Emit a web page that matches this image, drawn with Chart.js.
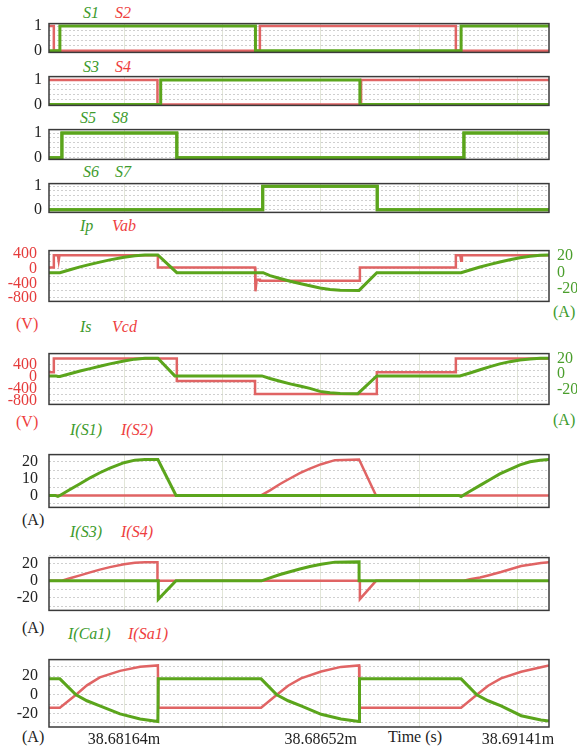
<!DOCTYPE html>
<html>
<head>
<meta charset="utf-8">
<script src="https://cdn.jsdelivr.net/npm/chart.js@4.4.1/dist/chart.umd.min.js"></script>
<style>
  body { margin: 0; background: #fff; width: 577px; height: 752px; position: relative; overflow: hidden;
         font-family: "Liberation Serif", "DejaVu Serif", serif; }
  canvas { position: absolute; left: 0; }
  .t { position: absolute; font-size: 16px; line-height: 18px; white-space: nowrap; }
  .i { font-style: italic; }
  .g { color: #3d9b2d; }
  .r { color: #ee3e3e; }
  .k { color: #222; }
</style>
</head>
<body>
<div class="t i g" style="left:83px;top:4px">S1</div>
<div class="t i r" style="left:115px;top:4px">S2</div>
<div class="t i g" style="left:83px;top:58px">S3</div>
<div class="t i r" style="left:115px;top:58px">S4</div>
<div class="t i g" style="left:80px;top:109px">S5</div>
<div class="t i g" style="left:112px;top:109px">S8</div>
<div class="t i g" style="left:83px;top:163px">S6</div>
<div class="t i g" style="left:115px;top:163px">S7</div>
<div class="t i g" style="left:80px;top:217px">Ip</div>
<div class="t i r" style="left:112px;top:217px">Vab</div>
<div class="t i g" style="left:80px;top:318px">Is</div>
<div class="t i r" style="left:112px;top:318px">Vcd</div>
<div class="t i g" style="left:70px;top:421px">I(S1)</div>
<div class="t i r" style="left:121px;top:421px">I(S2)</div>
<div class="t i g" style="left:70px;top:523px">I(S3)</div>
<div class="t i r" style="left:121px;top:523px">I(S4)</div>
<div class="t i g" style="left:68px;top:625px">I(Ca1)</div>
<div class="t i r" style="left:128px;top:625px">I(Sa1)</div>
<div class="t r" style="left:16px;top:315px">(V)</div>
<div class="t r" style="left:16px;top:413px">(V)</div>
<div class="t g" style="left:553px;top:303px">(A)</div>
<div class="t g" style="left:553px;top:411px">(A)</div>
<div class="t k" style="left:22px;top:511px">(A)</div>
<div class="t k" style="left:22px;top:619px">(A)</div>
<div class="t k" style="left:22px;top:728px">(A)</div>
<div class="t k" style="left:388px;top:728px">Time (s)</div>

<script>
// time axis: x values are microseconds after 38.68 ms
var tMin = -0.22;
var tMax = 12.18;
var timeTicks = [1.64, 4.08, 6.52, 8.97, 11.41];
var timeLabels = ["38.68164m", "", "38.68652m", "", "38.69141m"];

// gate signals [t, level]
var S1 = [[-0.22,0],[0.05,0],[0.05,1],[4.90,1],[4.90,0],[10.00,0],[10.00,1],[12.18,1]];
var S2 = [[-0.22,1],[-0.10,1],[-0.10,0],[5.01,0],[5.01,1],[9.87,1],[9.87,0],[12.18,0]];
var S3 = [[-0.22,0],[2.55,0],[2.55,1],[7.49,1],[7.49,0],[12.18,0]];
var S4 = [[-0.22,1],[2.47,1],[2.47,0],[7.52,0],[7.52,1],[12.18,1]];
var S5 = [[-0.22,0],[0.10,0],[0.10,1],[2.95,1],[2.95,0],[10.07,0],[10.07,1],[12.18,1]];
var S8 = S5; // same gate signal
var S6 = [[-0.22,0],[5.08,0],[5.08,1],[7.92,1],[7.92,0],[12.18,0]];
var S7 = S6;

// primary side: Ip (A), Vab (V)
var Ip = [[-0.22,0],[0.05,0],[0.30,3.5],[0.55,7],[0.80,10],[1.04,12.8],[1.29,15.5],[1.64,18.6],[1.91,20.5],[2.16,21.3],[2.48,21.4],[2.95,0],
  [5.09,0],[5.26,-3.5],[5.51,-7],[5.76,-10.3],[6.00,-13],[6.25,-15.8],[6.50,-18.5],[6.75,-20.3],[7.00,-21.3],[7.47,-21.4],[7.91,0],
  [10.00,0],[10.22,3.2],[10.47,6.8],[10.72,10],[10.96,13],[11.21,15.7],[11.46,18],[11.71,19.8],[11.96,21],[12.18,21.4]];
var Vab = [[-0.22,30],[-0.10,30],[-0.10,365],[0.00,365],[0.02,220],[0.04,365],[2.48,365],[2.48,30],[4.89,30],[4.89,-300],[4.91,-620],
  [4.93,-300],[5.01,-300],[5.01,-330],[7.49,-330],[7.49,30],[9.87,30],[9.87,365],[9.98,365],[10.00,220],[10.02,365],[12.18,365]];

// secondary side: Is (A), Vcd (V)
var Is = [[-0.22,-2.2],[-0.05,-2.2],[0.00,-3],[0.05,-3],[0.30,0.5],[0.55,4],[0.80,7],[1.04,10],[1.29,13],[1.64,16.6],[1.91,19],[2.16,20],[2.48,20.2],[2.90,-2.2],
  [5.06,-2.2],[5.26,-5.5],[5.51,-9],[5.76,-12.3],[6.00,-15],[6.25,-18],[6.50,-21.8],[6.75,-23.5],[7.00,-24.4],[7.44,-24.7],[7.91,-2.2],
  [9.97,-2.2],[10.22,1.5],[10.47,5.5],[10.72,9.5],[10.96,13],[11.21,15.8],[11.46,18],[11.71,19.3],[11.96,20],[12.18,20.2]];
var Vcd = [[-0.22,150],[-0.10,150],[-0.10,600],[2.95,600],[2.95,-140],[4.89,-140],[4.89,-570],[7.91,-570],[7.91,150],[9.87,150],[9.87,600],[12.18,600]];

// switch currents (A)
var IS1 = [[-0.22,0],[-0.07,0],[0.00,-0.6],[0.05,0],[0.30,3.5],[0.55,7],[0.80,10.5],[1.04,13.5],[1.29,16.3],[1.64,19.5],[1.91,21],[2.16,21.4],[2.48,21.4],[2.93,0],
  [9.94,0],[10.00,-0.6],[10.22,2.5],[10.47,6],[10.72,9.5],[10.96,12.8],[11.21,15.5],[11.46,18.2],[11.71,20],[11.96,21],[12.18,21.4]];
var IS2 = [[-0.22,0],[5.04,0],[5.26,3],[5.51,6.8],[5.71,9.5],[6.00,13.3],[6.25,16],[6.53,18.6],[6.87,21],[7.47,21.4],[7.89,0],[12.18,0]];
var IS3 = [[-0.22,0],[2.49,0],[2.49,-22],[2.93,0],[5.05,0],[5.26,3.5],[5.51,7.5],[5.71,10.2],[6.00,14],[6.25,17],[6.53,19.7],[6.87,22.2],[7.47,22.5],[7.47,0],[12.18,0]];
var IS4 = [[-0.22,0],[0.10,0],[0.30,3],[0.55,6.5],[0.80,10],[1.04,13.3],[1.29,16.3],[1.64,19.7],[1.91,21.5],[2.16,22],[2.47,22],[2.47,0],
  [7.49,0],[7.49,-21.8],[7.89,0],[10.07,0],[10.22,1.8],[10.47,4],[10.67,6.4],[10.99,10.5],[11.24,14],[11.49,17.5],[11.74,19.5],[11.98,21.2],[12.18,22]];

// resonant branch currents (A)
var ICa1 = [[-0.22,17],[0.05,17],[0.45,0],[0.72,-6.5],[1.04,-12],[1.54,-20.5],[2.04,-26],[2.48,-28.8],[2.49,17],
  [5.04,17],[5.43,0],[5.71,-6.5],[6.03,-12],[6.53,-21],[7.02,-26],[7.47,-28.8],[7.48,17],
  [10.00,17],[10.39,0],[10.67,-6.5],[10.99,-12],[11.49,-22.5],[11.98,-27],[12.18,-28.3]];
var ISa1 = [[-0.22,-14],[0.05,-14],[0.45,0],[0.72,10],[1.04,18.5],[1.54,25.5],[2.04,30],[2.48,31.4],[2.49,-14],
  [5.04,-14],[5.43,0],[5.71,9.6],[6.03,17.5],[6.53,24.8],[7.02,29.8],[7.47,31.4],[7.48,-14],
  [10.00,-14],[10.39,0],[10.67,9.6],[10.99,17.5],[11.49,24.5],[11.98,29.5],[12.18,31.4]];

// y tick / grid values
var gateGrid = [0, 0.2, 0.4, 0.6, 0.8, 1];
var gateLabels = [0, 1];
var voltGrid = [-800, -600, -400, -200, 0, 200, 400];
var voltLabels = [400, 0, -400, -800];
var ampLabels = [20, 0, -20];
var sw12Grid = [-5, 0, 5, 10, 15, 20];
var sw12Labels = [0, 10, 20];
var ampGrid = [-30, -20, -10, 0, 10, 20, 30];

var GREEN = "#5ba51c";
var RED = "#e06464";
var serif = { family: "'Liberation Serif', 'DejaVu Serif', serif", size: 16 };

var frame = {
  id: "frame",
  afterDraw: function (chart) {
    var a = chart.chartArea;
    var ctx = chart.ctx;
    ctx.save();
    ctx.strokeStyle = "#3a3a3a";
    ctx.lineWidth = 1.5;
    ctx.strokeRect(a.left, a.top, a.right - a.left, a.bottom - a.top);
    ctx.restore();
  },
};

function line(pts, color, axis) {
  return {
    data: pts.map(function (p) { return { x: p[0], y: p[1] }; }),
    borderColor: color,
    borderWidth: color == GREEN ? 3 : 2.5,
    yAxisID: axis || "y",
    pointRadius: 0,
    tension: 0,
    fill: false,
  };
}

function panel(p) {
  var padT = 14;
  var padB = p.last ? 0 : 14;
  var xH = p.last ? 26 : 0;
  var c = document.createElement("canvas");
  c.width = 577;
  c.height = p.bottom - p.top + padT + padB + xH;
  c.style.top = p.top - padT + "px";
  document.body.appendChild(c);

  var scales = {
    x: {
      type: "linear", min: tMin, max: tMax,
      afterBuildTicks: function (s) { s.ticks = timeTicks.map(function (v) { return { value: v }; }); },
      afterFit: function (s) { s.height = xH; },
      grid: { color: "#e2e6d8", lineWidth: 1, drawTicks: false },
      border: { display: false },
      ticks: {
        display: !!p.last, autoSkip: false, maxRotation: 0, padding: 3, color: "#222", font: serif,
        callback: function (v, i) { return timeLabels[i]; },
      },
    },
    y: {
      min: p.min, max: p.max,
      afterBuildTicks: function (s) { s.ticks = p.grid.map(function (v) { return { value: v }; }); },
      afterFit: function (s) { s.width = 49; },
      grid: { color: "#cfcfcf", lineWidth: 1, drawTicks: false },
      border: { display: false, dash: [2, 2] },
      ticks: {
        autoSkip: false, padding: p.pad, color: p.color || "#222", font: serif,
        callback: function (v) { return p.labels.indexOf(v) >= 0 ? String(v) : ""; },
      },
    },
  };
  if (p.right) {
    scales.y2 = {
      position: "right", min: p.right[0], max: p.right[1],
      afterBuildTicks: function (s) { s.ticks = ampLabels.map(function (v) { return { value: v }; }); },
      afterFit: function (s) { s.width = 28; },
      grid: { display: false, drawTicks: false },
      border: { display: false },
      ticks: { autoSkip: false, padding: 8, color: "#4a9e2c", font: serif },
    };
  }

  new Chart(c.getContext("2d"), {
    type: "line",
    data: { datasets: p.sets },
    options: {
      responsive: false,
      animation: false,
      devicePixelRatio: 1,
      layout: { padding: { top: padT, bottom: padB, left: 0, right: p.right ? 0 : 28 } },
      plugins: { legend: { display: false }, tooltip: { enabled: false } },
      scales: scales,
    },
    plugins: [frame],
  });
}

panel({ top: 21, bottom: 55, min: -0.07, max: 1.10, grid: gateGrid, labels: gateLabels, pad: 7,
  sets: [line(S1, GREEN), line(S2, RED)] });
panel({ top: 74, bottom: 108, min: -0.035, max: 1.14, grid: gateGrid, labels: gateLabels, pad: 7,
  sets: [line(S3, GREEN), line(S4, RED)] });
panel({ top: 127, bottom: 162, min: -0.07, max: 1.14, grid: gateGrid, labels: gateLabels, pad: 7,
  sets: [line(S5, GREEN), line(S8, GREEN)] });
panel({ top: 181, bottom: 215, min: -0.107, max: 1.107, grid: gateGrid, labels: gateLabels, pad: 7,
  sets: [line(S6, GREEN), line(S7, GREEN)] });
panel({ top: 243, bottom: 309, min: -895, max: 495, grid: voltGrid, labels: voltLabels, pad: 12, color: "#e53b3b",
  right: [-34.7, 26.7], sets: [line(Ip, GREEN, "y2"), line(Vab, RED)] });
panel({ top: 346, bottom: 412, min: -917, max: 764, grid: voltGrid, labels: voltLabels, pad: 12, color: "#e53b3b",
  right: [-38.3, 26], sets: [line(Is, GREEN, "y2"), line(Vcd, RED)] });
panel({ top: 448, bottom: 514, min: -7.1, max: 24.3, grid: sw12Grid, labels: sw12Labels, pad: 11,
  sets: [line(IS1, GREEN), line(IS2, RED)] });
panel({ top: 551, bottom: 617, min: -35.2, max: 27.6, grid: ampGrid, labels: ampLabels, pad: 11,
  sets: [line(IS3, GREEN), line(IS4, RED)] });
panel({ top: 653, bottom: 727, min: -34.6, max: 37.6, grid: ampGrid, labels: ampLabels, pad: 11, last: true,
  sets: [line(ICa1, GREEN), line(ISa1, RED)] });
</script>
</body>
</html>
